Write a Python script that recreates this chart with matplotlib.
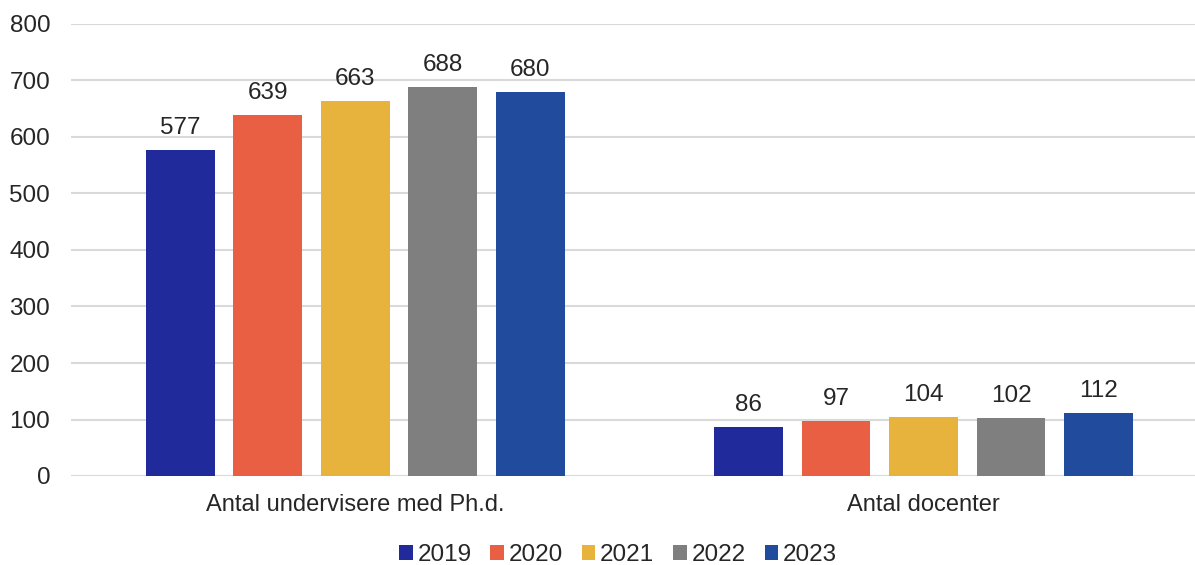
import matplotlib
matplotlib.use("Agg")
import matplotlib.pyplot as plt
import numpy as np

plt.rcParams['font.family'] = ['Liberation Sans', 'DejaVu Sans']

categories = ["Antal undervisere med Ph.d.", "Antal docenter"]
years = ["2019", "2020", "2021", "2022", "2023"]
values = {
    "2019": [577, 86],
    "2020": [639, 97],
    "2021": [663, 104],
    "2022": [688, 102],
    "2023": [680, 112],
}
colors = ["#202A9B", "#E95F43", "#E8B33C", "#7F7F7F", "#214C9E"]
text_color = "#262626"

W, H = 1195, 565
fig = plt.figure(figsize=(W / 100, H / 100), dpi=100)
ax = fig.add_axes([71 / W, 89 / H, 1124 / W, 452 / H])

x = np.arange(len(categories))
pitch = 0.154
width = 0.121
for i, (yr, c) in enumerate(zip(years, colors)):
    off = (i - 2) * pitch
    bars = ax.bar(x + off, values[yr], width, color=c, label=yr, zorder=3)
    for b, v in zip(bars, values[yr]):
        ax.annotate(str(v), (b.get_x() + b.get_width() / 2, v), xytext=(0, 8),
                    textcoords='offset points', ha='center', va='bottom',
                    fontsize=17.5, color=text_color)

ax.set_ylim(0, 800)
ax.set_yticks(range(0, 801, 100))
ax.set_xlim(-0.5, 1.4776)
ax.set_xticks(x)
ax.set_xticklabels(categories, fontsize=17, color=text_color)
ax.tick_params(axis='y', labelsize=17.5, labelcolor=text_color, length=0, pad=15)
ax.tick_params(axis='x', length=0, pad=13)
ax.grid(axis='y', color='#D9D9D9', linewidth=1.5, zorder=0)
for s in ax.spines.values():
    s.set_visible(False)

handles, labels = ax.get_legend_handles_labels()
fig.legend(handles, labels, loc='center', bbox_to_anchor=(618 / W, 1 - 555 / H), ncol=5,
           frameon=False, fontsize=17.5, handlelength=0.55, handleheight=0.55,
           handletextpad=0.2, columnspacing=0.78, labelcolor=text_color)

fig.savefig("out.png", dpi=100)
